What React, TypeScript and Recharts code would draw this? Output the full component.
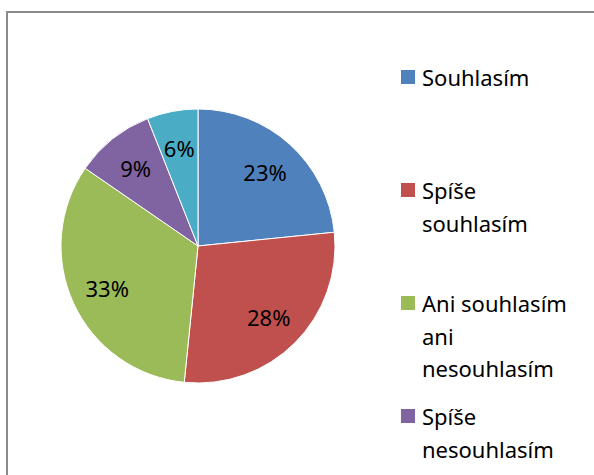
import { PieChart, Pie, Cell, Legend } from 'recharts';

const categories = ['Souhlasím', 'Spíše souhlasím', 'Ani souhlasím ani nesouhlasím', 'Spíše nesouhlasím', 'Nesouhlasím'];
const shares = [23.4, 28.2, 33.0, 9.4, 6.0];
const colors = ['#4F81BD', '#C0504D', '#9BBB59', '#8064A2', '#4BACC6'];

const data = categories.map((name, i) => ({ name, value: shares[i] }));

const FONT = '"Noto Sans", sans-serif';
const RAD = Math.PI / 180;

const renderLabel = (props: any) => {
  const { cx, cy, midAngle, percent } = props;
  const r = 100;
  const x = cx + r * Math.cos(-midAngle * RAD);
  const y = cy + r * Math.sin(-midAngle * RAD);
  return (
    <text x={x} y={y} textAnchor="middle" dominantBaseline="central" fontSize={22} fontFamily={FONT} fill="#000">
      {`${Math.round(percent * 100)}%`}
    </text>
  );
};

// keep the legend in data order (recharts sorts the payload by name otherwise)
const renderLegend = () => (
  <div style={{ position: 'relative', width: 190, fontFamily: FONT, fontSize: 22, lineHeight: '32.5px', color: '#000' }}>
    {categories.map((name, i) => (
      <div key={name} style={{ position: 'absolute', top: i * 113, left: 0, display: 'flex', alignItems: 'flex-start' }}>
        <span style={{ display: 'inline-block', flex: 'none', width: 14, height: 14, marginTop: 9, marginRight: 7, background: colors[i] }} />
        <span style={{ width: 160 }}>{name}</span>
      </div>
    ))}
  </div>
);

export default function App() {
  return (
    <div style={{ position: 'absolute', left: 0, top: 0, width: 594, height: 475, overflow: 'hidden', background: '#fff' }}>
      <div style={{ position: 'absolute', left: 6, top: 11, width: 620, height: 500, border: '2px solid #8a8a8a', boxSizing: 'border-box' }} />
      <div style={{ position: 'absolute', left: 0, top: 0 }}>
        <PieChart width={594} height={475} margin={{ top: 0, right: 0, bottom: 0, left: 0 }}>
          <Pie
            data={data}
            dataKey="value"
            nameKey="name"
            cx={198}
            cy={246}
            outerRadius={137}
            startAngle={90}
            endAngle={-270}
            stroke="#fff"
            strokeWidth={1}
            label={renderLabel}
            labelLine={false}
            isAnimationActive={false}
          >
            {data.map((d, i) => (
              <Cell key={d.name} fill={colors[i]} />
            ))}
          </Pie>
          <Legend
            layout="vertical"
            verticalAlign="top"
            align="right"
            content={renderLegend}
            wrapperStyle={{ position: 'absolute', left: 401, top: 61, width: 190, height: 420 }}
          />
        </PieChart>
      </div>
    </div>
  );
}
